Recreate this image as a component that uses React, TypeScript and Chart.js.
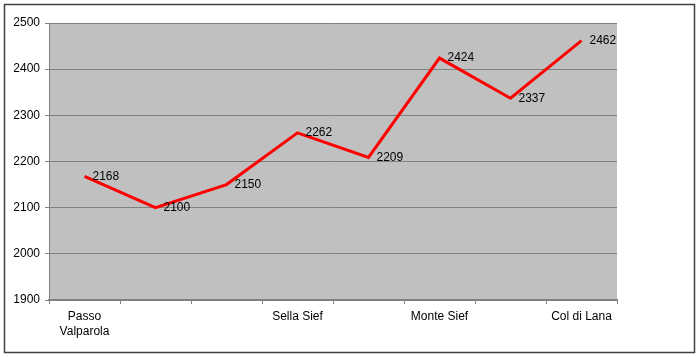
import React, { useEffect, useRef } from "react";
import { Chart, registerables } from "chart.js";

Chart.register(...registerables);

const categories: (string | string[])[] = [
  ["Passo", "Valparola"],
  "",
  "",
  "Sella Sief",
  "",
  "Monte Sief",
  "",
  "Col di Lana",
];
const altitudes = [2168, 2100, 2150, 2262, 2209, 2424, 2337, 2462];
const yMin = 1900;
const yMax = 2500;
const yStep = 100;

const FONT = "'Liberation Sans', Arial, sans-serif";

export default function App() {
  const ref = useRef<HTMLCanvasElement | null>(null);

  useEffect(() => {
    document.body.style.margin = "0";
    const canvas = ref.current;
    if (!canvas) return;

    const bgPlugin = {
      id: "bgPlugin",
      beforeDraw(chart: any) {
        const { ctx, chartArea } = chart;
        ctx.save();
        ctx.fillStyle = "#ffffff";
        ctx.fillRect(0, 0, chart.width, chart.height);
        ctx.fillStyle = "#C0C0C0";
        ctx.fillRect(
          chartArea.left,
          chartArea.top,
          chartArea.right - chartArea.left,
          chartArea.bottom - chartArea.top
        );
        ctx.strokeStyle = "#404040";
        ctx.lineWidth = 1.5;
        ctx.strokeRect(4.5, 4.5, 690, 348);
        ctx.restore();
      },
    };

    const labelPlugin = {
      id: "labelPlugin",
      afterDatasetsDraw(chart: any) {
        const { ctx } = chart;
        const meta = chart.getDatasetMeta(0);
        ctx.save();
        ctx.font = `12px ${FONT}`;
        ctx.fillStyle = "#000000";
        ctx.textBaseline = "middle";
        ctx.textAlign = "left";
        meta.data.forEach((pt: any, i: number) => {
          ctx.fillText(String(altitudes[i]), pt.x + 8, pt.y);
        });
        ctx.restore();
      },
    };

    const chart = new Chart(canvas, {
      type: "line",
      data: {
        labels: categories,
        datasets: [
          {
            data: altitudes,
            borderColor: "#FF0000",
            borderWidth: 3,
            pointRadius: 0,
            tension: 0,
            fill: false,
          },
        ],
      },
      options: {
        animation: false,
        responsive: false,
        maintainAspectRatio: false,
        layout: { padding: { left: 0, right: 83, top: 23, bottom: 0 } },
        plugins: {
          legend: { display: false },
          tooltip: { enabled: false },
        },
        scales: {
          x: {
            offset: true,
            grid: {
              offset: true,
              drawOnChartArea: false,
              drawTicks: true,
              tickLength: 4,
              color: "#808080",
            },
            border: { color: "#808080", width: 2 },
            ticks: {
              autoSkip: false,
              maxRotation: 0,
              padding: 5,
              color: "#000000",
              font: { family: FONT, size: 12, lineHeight: 1.25 },
            },
            afterFit(scale: any) {
              scale.height = 57;
            },
          },
          y: {
            min: yMin,
            max: yMax,
            ticks: {
              stepSize: yStep,
              padding: 5,
              color: "#000000",
              font: { family: FONT, size: 12 },
              callback: (v: any) => String(v),
            },
            grid: {
              color: "#808080",
              lineWidth: 1,
              tickLength: 4,
            },
            border: { color: "#808080", width: 1 },
            afterFit(scale: any) {
              scale.width = 49;
            },
          },
        },
      },
      plugins: [bgPlugin, labelPlugin],
    });

    return () => chart.destroy();
  }, []);

  return (
    <div style={{ width: 700, height: 357 }}>
      <canvas ref={ref} width={700} height={357} style={{ display: "block" }} />
    </div>
  );
}
